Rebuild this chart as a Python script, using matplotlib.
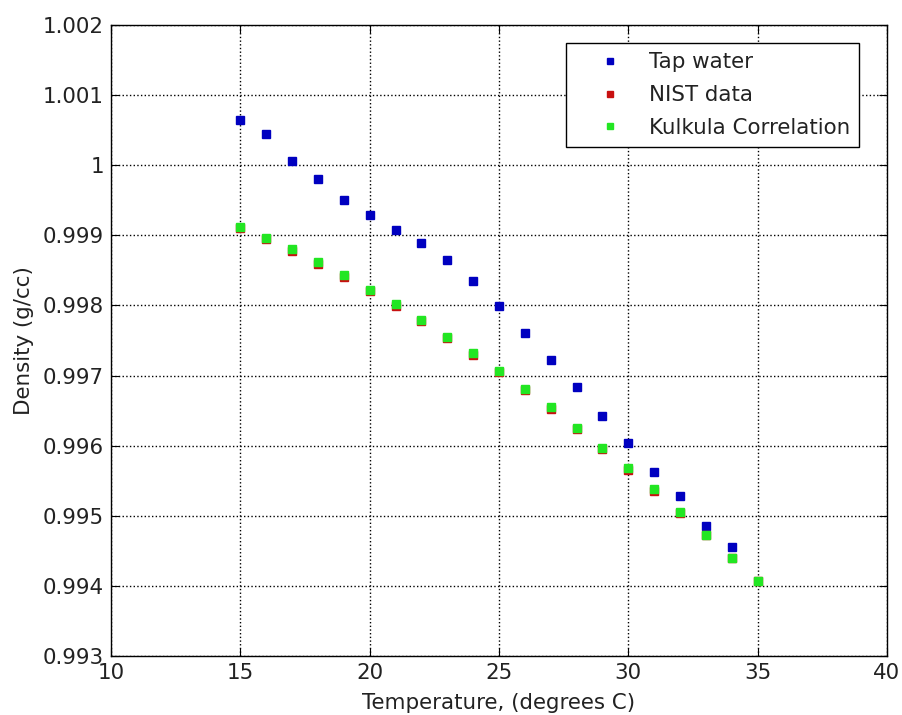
import numpy as np
import matplotlib
matplotlib.use('Agg')
import matplotlib.pyplot as plt

plt.rcParams['font.family'] = ['DejaVu Sans']

# temperatures (deg C)
temp_tap = np.arange(15, 35)
temp_ref = np.arange(15, 36)

# measured tap water density (g/cc)
tap_water = [1.000650, 1.000445, 1.000060, 0.999803, 0.999504, 0.999290, 0.999076,
             0.998886, 0.998648, 0.998348, 0.997988, 0.997602, 0.997217, 0.996831,
             0.996427, 0.996032, 0.995628, 0.995286, 0.994858, 0.994558]

# NIST table values
nist = [0.999103, 0.998946, 0.998778, 0.998597, 0.998406, 0.998205, 0.997994,
        0.997772, 0.997540, 0.997299, 0.997048, 0.996787, 0.996518, 0.996240,
        0.995953, 0.995658, 0.995356, 0.995046, 0.994728, 0.994403, 0.994072]

# Kukula correlation
kukula = [0.999120, 0.998966, 0.998800, 0.998622, 0.998432, 0.998220, 0.998025,
          0.997792, 0.997554, 0.997318, 0.997064, 0.996807, 0.996545, 0.996255,
          0.995970, 0.995676, 0.995377, 0.995057, 0.994725, 0.994392, 0.994068]

fs = 15.4
fig = plt.figure(figsize=(9.03, 7.15), dpi=100)
ax = fig.add_axes([111/903, 59/715, 776/903, 631/715])

ax.plot(temp_tap, tap_water, 's', color='#0000c0', markersize=5.3, label='Tap water')
ax.plot(temp_ref, nist, 's', color='#c81010', markersize=5.3, label='NIST data')
ax.plot(temp_ref, kukula, 's', color='#22e622', markersize=5.3, label='Kulkula Correlation')

ax.set_xlim(10, 40)
ax.set_ylim(0.993, 1.002)
ax.set_xticks(np.arange(10, 41, 5))
ax.set_yticks(np.arange(0.993, 1.00201, 0.001))
ax.set_yticklabels(['0.993', '0.994', '0.995', '0.996', '0.997', '0.998', '0.999',
                    '1', '1.001', '1.002'])
ax.grid(True, linestyle=':', color='black', linewidth=1)
ax.tick_params(direction='in', length=6, labelsize=fs, top=True, right=True,
               pad=5, labelcolor='#222222')
for s in ax.spines.values():
    s.set_linewidth(1)

ax.set_xlabel('Temperature, (degrees C)', fontsize=fs, labelpad=7, color='#222222')
ax.set_ylabel('Density (g/cc)', fontsize=fs, labelpad=6, color='#222222')

leg = ax.legend(loc='upper right', bbox_to_anchor=(859/903, 1 - 43/715),
                bbox_transform=fig.transFigure, borderaxespad=0, fontsize=fs,
                fancybox=False, edgecolor='black', framealpha=1,
                markerscale=0.8, handlelength=3.3, handletextpad=0.15,
                labelspacing=0.6, borderpad=0.43)
leg.get_frame().set_linewidth(1)
for t in leg.get_texts():
    t.set_color('#222222')

fig.savefig('out.png', dpi=100)
